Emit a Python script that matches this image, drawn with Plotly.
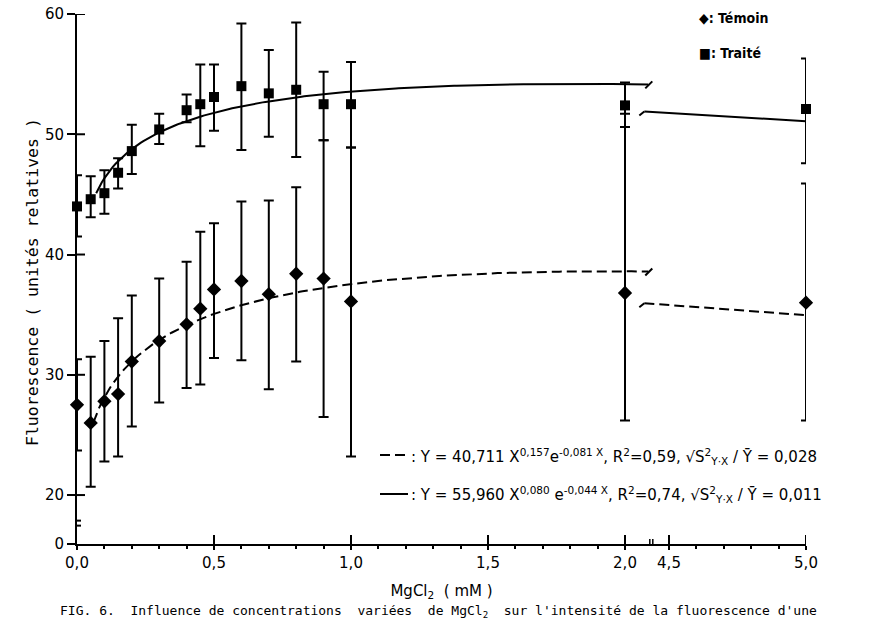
import numpy as np
import plotly.graph_objects as go

# ---------------- data ----------------
x_conc = [0.0, 0.05, 0.1, 0.15, 0.2, 0.3, 0.4, 0.45, 0.5, 0.6, 0.7, 0.8, 0.9, 1.0, 2.0, 5.0]

temoin    = [27.5, 26.0, 27.8, 28.4, 31.1, 32.8, 34.2, 35.5, 37.1, 37.8, 36.7, 38.4, 38.0, 36.1, 36.8, 36.0]
temoin_hi = [31.3, 31.5, 32.8, 34.7, 36.6, 38.0, 39.4, 41.9, 42.6, 44.4, 44.5, 45.6, 49.5, 48.9, 51.7, 45.9]
temoin_lo = [23.7, 20.7, 22.8, 23.2, 25.7, 27.7, 28.9, 29.2, 31.4, 31.2, 28.8, 31.1, 26.5, 23.2, 26.2, 26.2]

traite    = [44.0, 44.6, 45.1, 46.8, 48.6, 50.4, 52.0, 52.5, 53.1, 54.0, 53.4, 53.7, 52.5, 52.5, 52.4, 52.1]
traite_hi = [46.6, 46.5, 47.0, 48.0, 50.8, 51.7, 53.3, 55.8, 55.8, 59.2, 57.0, 59.3, 55.2, 56.0, 54.3, 56.3]
traite_lo = [41.5, 43.1, 43.4, 45.5, 46.7, 49.2, 51.0, 49.0, 50.3, 48.7, 49.8, 48.1, 49.5, 48.9, 50.6, 47.6]

# fitted models printed on the figure: Y = a * X^b * exp(-c X)
fit_temoin = (40.711, 0.157, 0.081)
fit_traite = (55.960, 0.080, 0.044)
fit_start_temoin = 0.06
fit_start_traite = 0.07
fit_seg1_end = 2.085
fit_seg2_start = 4.41
fit_seg2_end = 5.0

x_tick_vals = [0.0, 0.5, 1.0, 1.5, 2.0, 4.5, 5.0]
x_tick_text = ["0,0", "0,5", "1,0", "1,5", "2,0", "4,5", "5,0"]
x_minor_vals = [0.1, 0.2, 0.3, 0.4, 0.6, 0.7, 0.8, 0.9, 1.1, 1.2, 1.3, 1.4, 1.6, 1.7, 1.8, 1.9,
                4.6, 4.7, 4.8, 4.9]
y_tick_vals = [0, 20, 30, 40, 50, 60]
y_tick_text = ["0", "20", "30", "40", "50", "60"]

# ---------------- broken-axis mapping ----------------
BREAK_AT = 2.1          # last displayed value of first x segment
SEG2_ORIGIN = 4.5       # first labelled value of second segment
SEG2_DISPLAY = 2.1606   # where 4.5 is placed on the display scale
Y_ZERO_DISPLAY = 15.93  # where 0 is placed below the y break


def xd(v):
    v = np.asarray(v, dtype=float)
    return np.where(v <= BREAK_AT, v, v - SEG2_ORIGIN + SEG2_DISPLAY)


def yd(v):
    v = np.asarray(v, dtype=float)
    return np.where(v <= 0, Y_ZERO_DISPLAY, v)


def model(p, x):
    a, b, c = p
    return a * np.power(x, b) * np.exp(-c * x)


X = xd(x_conc)
FONT = "DejaVu Sans"
MONO = "DejaVu Sans Mono"

fig = go.Figure()

# fitted curves (two segments each, around the axis break)
curve_specs = [
    (fit_temoin, fit_start_temoin, "10px,5px"),
    (fit_traite, fit_start_traite, "solid"),
]
slashes = []
for p, x0, dash in curve_specs:
    for a, b in [(x0, fit_seg1_end), (fit_seg2_start, fit_seg2_end)]:
        xs = np.linspace(a, b, 200)
        fig.add_trace(go.Scatter(x=xd(xs), y=model(p, xs), mode="lines",
                                 line=dict(color="black", width=2, dash=dash),
                                 showlegend=False, hoverinfo="skip"))
    slashes.append((float(xd(fit_seg1_end)), float(model(p, fit_seg1_end)), -3, 4, -4, 3))
    slashes.append((float(xd(fit_seg2_start)), float(model(p, fit_seg2_start)), -5, 0, -4, 0))

# data points with error bars
for y, hi, lo, sym, name in [
    (temoin, temoin_hi, temoin_lo, "diamond", "Témoin"),
    (traite, traite_hi, traite_lo, "square", "Traité"),
]:
    y = np.array(y)
    fig.add_trace(go.Scatter(
        x=X, y=y, mode="markers", name=name, showlegend=False, cliponaxis=False,
        marker=dict(symbol=sym, size=11 if sym == "diamond" else 10, color="black",
                    line=dict(width=0)),
        error_y=dict(type="data", symmetric=False,
                     array=np.array(hi) - y, arrayminus=y - np.array(lo),
                     color="black", thickness=2, width=5),
    ))

xr = [0, float(xd(5.0))]
yr = [Y_ZERO_DISPLAY, 60]

fig.update_layout(
    width=876, height=621,
    margin=dict(l=77, r=876 - 77 - int(round(xr[1] * 274)), t=14, b=77, autoexpand=False),
    paper_bgcolor="white", plot_bgcolor="white",
    font=dict(family=FONT, color="black"),
    xaxis=dict(range=xr, showgrid=False, zeroline=False, showline=True, linecolor="black",
               linewidth=2, ticks="outside", ticklen=4, tickwidth=2, tickcolor="black",
               tickvals=xd(x_tick_vals), ticktext=x_tick_text,
               tickfont=dict(size=15, family=FONT),
               minor=dict(tickvals=xd(x_minor_vals), ticks="outside", ticklen=3,
                          tickwidth=1.5, tickcolor="black", showgrid=False),
               title=dict(text="MgCl<sub>2</sub>  ( mM )", font=dict(size=15, family=FONT),
                          standoff=14),
               automargin=False),
    yaxis=dict(range=yr, showgrid=False, zeroline=False, showline=True, linecolor="black",
               linewidth=2, ticks="outside", ticklen=8, tickwidth=2, tickcolor="black",
               tickvals=yd(y_tick_vals), ticktext=y_tick_text,
               tickfont=dict(size=15, family=FONT), automargin=False),
)

shapes = []
# inner halves of the major ticks (the source's ticks cross the axis lines)
for tv in xd(x_tick_vals)[1:]:
    shapes.append(dict(type="line", xref="x", yref="y", ysizemode="pixel",
                       x0=float(tv), x1=float(tv), yanchor=Y_ZERO_DISPLAY, y0=0, y1=9,
                       line=dict(color="black", width=2)))
for tv in yd(y_tick_vals)[1:]:
    shapes.append(dict(type="line", xref="x", yref="y", xsizemode="pixel",
                       y0=float(tv), y1=float(tv), xanchor=0, x0=0, x1=8,
                       line=dict(color="black", width=2)))
# break slashes at the ends of the fitted curves
for xa, ya, x0, x1, y0, y1 in slashes:
    shapes.append(dict(type="line", xref="x", yref="y", xsizemode="pixel", ysizemode="pixel",
                       xanchor=xa, yanchor=ya, x0=x0, x1=x1, y0=y0, y1=y1,
                       line=dict(color="black", width=2)))
# y-axis break (gap with two caps between 0 and 20)
ybreak = 0.5 * (Y_ZERO_DISPLAY + 20) - 0.3
shapes.append(dict(type="line", xref="x", yref="y", xsizemode="pixel", ysizemode="pixel",
                   xanchor=0, yanchor=ybreak, x0=0, x1=0, y0=-1.5, y1=1.5,
                   line=dict(color="white", width=4), layer="above"))
for dy in (-2.5, 2.5):
    shapes.append(dict(type="line", xref="x", yref="y", xsizemode="pixel", ysizemode="pixel",
                       xanchor=0, yanchor=ybreak, x0=-4, x1=4, y0=dy, y1=dy,
                       line=dict(color="black", width=2), layer="above"))
# x-axis break marks
xb = float(xd(BREAK_AT)) - 0.004
for dx in (-1.5, 1.5):
    shapes.append(dict(type="line", xref="x", yref="y", xsizemode="pixel", ysizemode="pixel",
                       xanchor=xb, yanchor=Y_ZERO_DISPLAY, x0=dx, x1=dx, y0=-4, y1=5,
                       line=dict(color="black", width=1.5), layer="above"))
# equation key lines (pixel offsets from the plot's lower-left corner)
shapes.append(dict(type="line", xref="paper", yref="paper", xsizemode="pixel", ysizemode="pixel",
                   xanchor=0, yanchor=0, x0=380 - 77, x1=408 - 77, y0=544 - 455, y1=544 - 455,
                   line=dict(color="black", width=2, dash="10px,5px")))
shapes.append(dict(type="line", xref="paper", yref="paper", xsizemode="pixel", ysizemode="pixel",
                   xanchor=0, yanchor=0, x0=380 - 77, x1=408 - 77, y0=544 - 494, y1=544 - 494,
                   line=dict(color="black", width=2)))
fig.update_layout(shapes=shapes)

ann = []
# y axis title
ann.append(dict(text="Fluorescence ( unités relatives )", xref="paper", yref="paper",
                x=-(77 - 32) / 729, y=(544 - 282) / 530, textangle=-90,
                showarrow=False, font=dict(size=16.5, family=MONO), xanchor="center", yanchor="middle"))
# legend
ann.append(dict(text="<b>◆: Témoin</b>", xref="paper", yref="paper", x=(697 - 77) / 729,
                y=(544 - 18) / 530, xanchor="left", yanchor="middle", showarrow=False,
                font=dict(size=14, family="DejaVu Sans Condensed")))
ann.append(dict(text="<b>■: Traité</b>", xref="paper", yref="paper", x=(697 - 77) / 729,
                y=(544 - 53) / 530, xanchor="left", yanchor="middle", showarrow=False,
                font=dict(size=14, family="DejaVu Sans Condensed")))
# equations
eq1 = (": Y = 40,711 X<sup>0,157</sup>e<sup>-0,081 X</sup>, R<sup>2</sup>=0,59, "
       "√S<sup>2</sup><sub>Y·X</sub> / Y\u0304 = 0,028")
eq2 = (": Y = 55,960 X<sup>0,080</sup> e<sup>-0,044 X</sup>, R<sup>2</sup>=0,74, "
       "√S<sup>2</sup><sub>Y·X</sub> / Y\u0304 = 0,011")
ann.append(dict(text=eq1, xref="paper", yref="paper", x=(409 - 77) / 729, y=(544 - 456) / 530,
                xanchor="left", yanchor="middle", showarrow=False,
                font=dict(size=15, family=FONT)))
ann.append(dict(text=eq2, xref="paper", yref="paper", x=(409 - 77) / 729, y=(544 - 494) / 530,
                xanchor="left", yanchor="middle", showarrow=False,
                font=dict(size=15, family=FONT)))
# caption (cut at the bottom of the page in the source)
ann.append(dict(text="FIG. 6.  Influence de concentrations  variées  de MgCl<sub>2</sub>  sur l'intensité de la fluorescence d'une",
                xref="paper", yref="paper", x=(438 - 77) / 729, y=(544 - 611) / 530,
                xanchor="center", yanchor="middle", showarrow=False,
                font=dict(size=13, family=MONO)))
fig.update_layout(annotations=ann)

fig.write_html("out.html")
